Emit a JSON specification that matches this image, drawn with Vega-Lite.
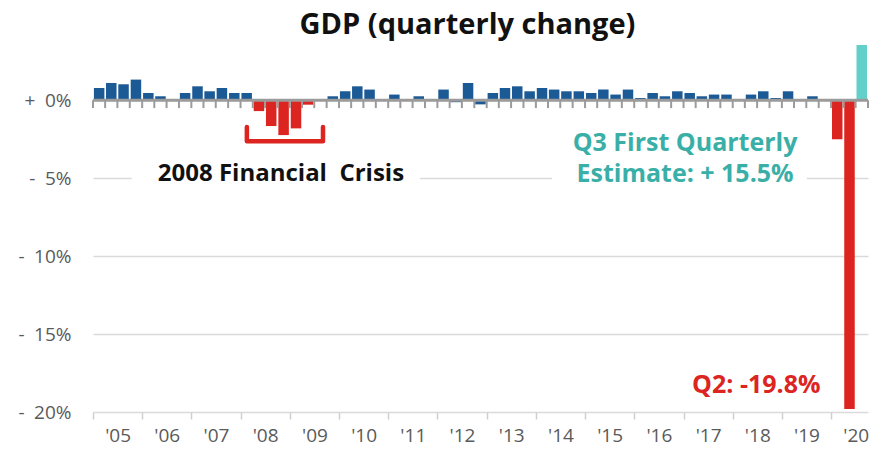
{
  "$schema": "https://vega.github.io/schema/vega-lite/v6.json",
  "width": 775,
  "height": 367,
  "autosize": {"type": "none"},
  "padding": {"left": 93, "top": 45, "right": 3, "bottom": 38},
  "background": "white",
  "config": {"view": {"stroke": null}, "font": "Open Sans"},
  "title": {"text": "GDP (quarterly change)", "font": "Open Sans", "fontSize": 29, "fontWeight": "bold", "color": "#111111", "anchor": "middle", "dx": -13, "offset": 5},
  "datasets": {
    "gdp": [
      {"q": "2005-01-01", "v": 0.79}, {"q": "2005-04-01", "v": 1.11}, {"q": "2005-07-01", "v": 1.03}, {"q": "2005-10-01", "v": 1.33},
      {"q": "2006-01-01", "v": 0.47}, {"q": "2006-04-01", "v": 0.26}, {"q": "2006-07-01", "v": 0}, {"q": "2006-10-01", "v": 0.47},
      {"q": "2007-01-01", "v": 0.9}, {"q": "2007-04-01", "v": 0.58}, {"q": "2007-07-01", "v": 0.79}, {"q": "2007-10-01", "v": 0.47},
      {"q": "2008-01-01", "v": 0.47}, {"q": "2008-04-01", "v": -0.69}, {"q": "2008-07-01", "v": -1.65}, {"q": "2008-10-01", "v": -2.23},
      {"q": "2009-01-01", "v": -1.8}, {"q": "2009-04-01", "v": -0.28}, {"q": "2009-07-01", "v": 0}, {"q": "2009-10-01", "v": 0.26},
      {"q": "2010-01-01", "v": 0.58}, {"q": "2010-04-01", "v": 0.9}, {"q": "2010-07-01", "v": 0.69}, {"q": "2010-10-01", "v": 0},
      {"q": "2011-01-01", "v": 0.37}, {"q": "2011-04-01", "v": 0}, {"q": "2011-07-01", "v": 0.26}, {"q": "2011-10-01", "v": 0},
      {"q": "2012-01-01", "v": 0.69}, {"q": "2012-04-01", "v": -0.12}, {"q": "2012-07-01", "v": 1.11}, {"q": "2012-10-01", "v": -0.26},
      {"q": "2013-01-01", "v": 0.47}, {"q": "2013-04-01", "v": 0.79}, {"q": "2013-07-01", "v": 0.9}, {"q": "2013-10-01", "v": 0.58},
      {"q": "2014-01-01", "v": 0.79}, {"q": "2014-04-01", "v": 0.69}, {"q": "2014-07-01", "v": 0.58}, {"q": "2014-10-01", "v": 0.58},
      {"q": "2015-01-01", "v": 0.47}, {"q": "2015-04-01", "v": 0.69}, {"q": "2015-07-01", "v": 0.37}, {"q": "2015-10-01", "v": 0.69},
      {"q": "2016-01-01", "v": 0.15}, {"q": "2016-04-01", "v": 0.47}, {"q": "2016-07-01", "v": 0.26}, {"q": "2016-10-01", "v": 0.58},
      {"q": "2017-01-01", "v": 0.47}, {"q": "2017-04-01", "v": 0.26}, {"q": "2017-07-01", "v": 0.37}, {"q": "2017-10-01", "v": 0.37},
      {"q": "2018-01-01", "v": 0}, {"q": "2018-04-01", "v": 0.37}, {"q": "2018-07-01", "v": 0.58}, {"q": "2018-10-01", "v": 0.15},
      {"q": "2019-01-01", "v": 0.58}, {"q": "2019-04-01", "v": 0}, {"q": "2019-07-01", "v": 0.26}, {"q": "2019-10-01", "v": 0},
      {"q": "2020-01-01", "v": -2.5}, {"q": "2020-04-01", "v": -19.8}, {"q": "2020-07-01", "v": 15.5}
    ]
  },
  "layer": [
    {
      "data": {"name": "gdp"},
      "mark": {"type": "bar", "width": 10.5, "xOffset": 6.15, "clip": true},
      "encoding": {
        "x": {
          "field": "q", "type": "temporal",
          "scale": {"type": "utc", "padding": 0, "domain": [{"year": 2005, "month": 1, "date": 1, "utc": true}, {"year": 2020, "month": 10, "date": 1, "utc": true}]},
          "axis": {
            "title": null, "domain": false, "grid": false,
            "values": [
              {"year": 2005, "utc": true}, {"year": 2006, "utc": true}, {"year": 2007, "utc": true}, {"year": 2008, "utc": true},
              {"year": 2009, "utc": true}, {"year": 2010, "utc": true}, {"year": 2011, "utc": true}, {"year": 2012, "utc": true},
              {"year": 2013, "utc": true}, {"year": 2014, "utc": true}, {"year": 2015, "utc": true}, {"year": 2016, "utc": true},
              {"year": 2017, "utc": true}, {"year": 2018, "utc": true}, {"year": 2019, "utc": true}, {"year": 2020, "utc": true}
            ],
            "labelExpr": "\"'\" + utcFormat(datum.value, '%y')",
            "labelOffset": 24.6, "labelFontSize": 19, "labelColor": "#5a5a5a", "labelFont": "Open Sans",
            "tickColor": "#d0d0d0", "tickSize": 7, "tickWidth": 1.5, "labelPadding": 7, "labelFlush": false, "labelOverlap": false
          }
        },
        "y": {
          "field": "v", "type": "quantitative",
          "scale": {"domain": [-20, 3.55], "nice": false},
          "axis": {
            "title": null, "domain": false, "ticks": false,
            "values": [0, -5, -10, -15, -20],
            "labelExpr": "datum.value == 0 ? '+\u20020%' : '-\u2002' + abs(datum.value) + '%'",
            "labelFontSize": 19, "labelColor": "#5a5a5a", "labelFont": "Open Sans", "labelPadding": 22,
            "gridColor": "#dadada", "gridWidth": 1.5
          }
        },
        "color": {
          "condition": [
            {"test": "datum.v > 10", "value": "#62cfcb"},
            {"test": "datum.v < 0 && (utcyear(datum.q) < 2010 || utcyear(datum.q) >= 2020)", "value": "#dc2420"}
          ],
          "value": "#1c5a96"
        }
      }
    },
    {
      "data": {"values": [{}]},
      "mark": {"type": "rule", "color": "#9b9b9b", "strokeWidth": 3},
      "encoding": {"y": {"datum": 0}}
    },
    {
      "data": {"name": "gdp"},
      "mark": {"type": "rule", "color": "#9b9b9b", "strokeWidth": 2},
      "encoding": {"x": {"field": "q", "type": "temporal"}, "y": {"datum": 0}, "y2": {"datum": -0.5}}
    },
    {
      "data": {"values": [{"q": "2020-10-01"}]},
      "mark": {"type": "rule", "color": "#9b9b9b", "strokeWidth": 2},
      "encoding": {"x": {"field": "q", "type": "temporal"}, "y": {"datum": 0}, "y2": {"datum": -0.5}}
    },
    {
      "data": {"values": [
        {"d": "2008-02-17", "y": -1.71, "k": 1},
        {"d": "2008-02-17", "y": -2.63, "k": 2},
        {"d": "2009-09-04", "y": -2.63, "k": 3},
        {"d": "2009-09-04", "y": -1.71, "k": 4}
      ]},
      "mark": {"type": "line", "color": "#dc2420", "strokeWidth": 4.5, "strokeJoin": "round", "strokeCap": "round"},
      "encoding": {"x": {"field": "d", "type": "temporal"}, "y": {"field": "y", "type": "quantitative"}, "order": {"field": "k"}}
    },
    {
      "data": {"values": [
        {"d1": "2005-10-15", "d2": "2011-08-24"},
        {"d1": "2014-05-01", "d2": "2019-07-05"}
      ]},
      "mark": {"type": "rect", "color": "white"},
      "encoding": {"x": {"field": "d1", "type": "temporal"}, "x2": {"field": "d2"}, "y": {"datum": -4.6}, "y2": {"datum": -5.4}}
    },
    {
      "data": {"values": [
        {"d": "2008-10-27", "y": -4.75, "label": "2008 Financial\u00a0 Crisis"}
      ]},
      "mark": {"type": "text", "font": "Open Sans", "fontWeight": "bold", "fontSize": 24, "color": "#111111", "baseline": "middle", "align": "center"},
      "encoding": {"x": {"field": "d", "type": "temporal"}, "y": {"field": "y", "type": "quantitative"}, "text": {"field": "label"}}
    },
    {
      "data": {"values": [
        {"d": "2017-01-12", "y": -2.76, "label": "Q3 First Quarterly"},
        {"d": "2017-01-12", "y": -4.75, "label": "Estimate: + 15.5%"}
      ]},
      "mark": {"type": "text", "font": "Open Sans", "fontWeight": "bold", "fontSize": 25, "color": "#3aafa8", "baseline": "middle", "align": "center"},
      "encoding": {"x": {"field": "d", "type": "temporal"}, "y": {"field": "y", "type": "quantitative"}, "text": {"field": "label"}}
    },
    {
      "data": {"values": [
        {"d": "2018-06-25", "y": -18.24, "label": "Q2: -19.8%"}
      ]},
      "mark": {"type": "text", "font": "Open Sans", "fontWeight": "bold", "fontSize": 25, "color": "#dc2420", "baseline": "middle", "align": "center"},
      "encoding": {"x": {"field": "d", "type": "temporal"}, "y": {"field": "y", "type": "quantitative"}, "text": {"field": "label"}}
    }
  ]
}
